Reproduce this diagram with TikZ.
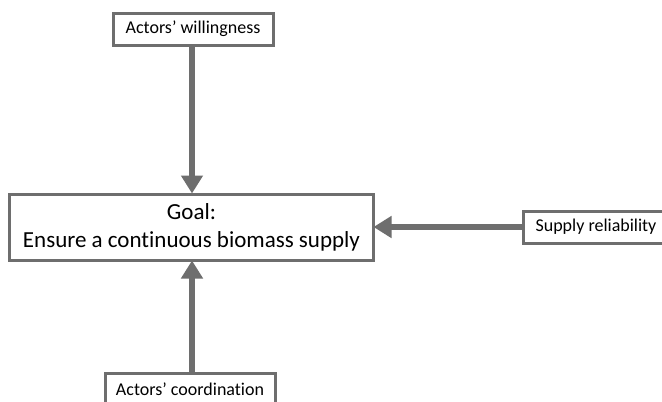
\documentclass[tikz,border=0pt]{standalone}
\usepackage{fontspec}
\setmainfont{Carlito}[Ligatures={NoCommon}]
\usetikzlibrary{arrows.meta}
\definecolor{edgegray}{HTML}{6E6E6E}
\tikzset{
  box/.style={draw=edgegray, line width=3bp, fill=white, inner sep=0pt, align=center, text=black},
  smallbox/.style={box, font=\fontsize{18bp}{20bp}\selectfont, minimum height=32bp},
  conn/.style={draw=edgegray, line width=6bp, -{Triangle[width=21bp,length=18bp]}, shorten >=-1bp}
}
\begin{document}
\begin{tikzpicture}[x=1bp,y=-1bp]
\useasboundingbox (0,0) rectangle (662,401);
\clip (0,0) rectangle (662,401);
\fill[white] (0,0) rectangle (662,401);
\node[box, minimum width=363bp, minimum height=66bp, font=\fontsize{23bp}{28bp}\selectfont] (goal) at (191.5,227) {Goal:\\Ensure a continuous biomass supply};
\node[smallbox, minimum width=160bp] (will) at (193,29) {Actors’ willingness};
\node[smallbox, minimum width=146bp] (supp) at (596,227) {Supply reliability};
\node[smallbox, minimum width=170bp] (coord) at (190,389) {Actors’ coordination};
\draw[conn] (will.south -| 192,0) -- (goal.north -| 192,0);
\draw[conn] (coord.north -| 192,0) -- (goal.south -| 192,0);
\draw[conn] (supp.west) -- (goal.east);
\end{tikzpicture}
\end{document}
